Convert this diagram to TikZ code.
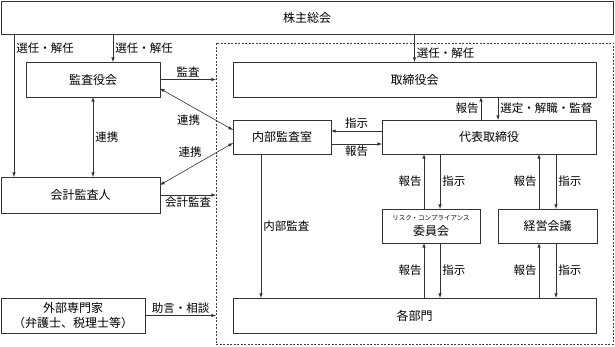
\documentclass[tikz,border=0pt]{standalone}
\usepackage{fontspec}
\newfontfamily\jpfont{Noto Sans CJK JP}
\begin{document}
\begin{tikzpicture}[
    x=1pt, y=-1pt,
    >=latex,
    every node/.style={font=\jpfont\fontsize{12}{15}\selectfont},
    box/.style={
        draw=black!80, line width=0.6pt,
        inner sep=0pt, outer sep=0pt, align=center
    },
    grpframe/.style={
        draw=black!75, dash pattern=on 2pt off 1.5pt, line width=0.6pt,
        inner sep=0pt, outer sep=0pt,
        minimum width=397pt, minimum height=301pt
    },
    arr/.style={->, draw=black!80, line width=0.6pt},
    both/.style={<->, draw=black!80, line width=0.6pt},
    lbl/.style={inner sep=2pt, font=\jpfont\fontsize{11.5}{14}\selectfont}
]

\useasboundingbox (0,0) rectangle (615,347);

% 株主総会と点線の枠
\node[box, minimum width=612pt, minimum height=33pt] (soukai) at (307,17.5) {株主総会};
\node[grpframe] (grp) at (414.5,193.5) {};

% 枠の外
\node[box, minimum width=134pt, minimum height=35pt] (kansa) at (93,79.5) {監査役会};
\node[box, minimum width=159pt, minimum height=36pt] (kaikei) at (80.5,195) {会計監査人};
\node[box, minimum width=144pt, minimum height=35pt] (gaibu) at (73,315.5)
    {外部専門家\\（弁護士、税理士等）};

% 枠の中
\node[box, minimum width=363pt, minimum height=35pt] (board) at (414.5,79.5) {取締役会};
\node[box, minimum width=98pt, minimum height=34pt] (naibu) at (282,137) {内部監査室};
\node[box, minimum width=214pt, minimum height=34pt] (ceo) at (489,137) {代表取締役};
\node[box, minimum width=98pt, minimum height=34pt] (risk) at (431,226)
    {{\fontsize{6.5}{9}\selectfont リスク・コンプライアンス}\\委員会};
\node[box, minimum width=99pt, minimum height=34pt] (keiei) at (547.5,226) {経営会議};
\node[box, minimum width=363pt, minimum height=35pt] (bumon) at (414.5,315.5) {各部門};

% 選任・解任
\draw[arr] ([xshift=13pt]kaikei.north west |- soukai.south)
    -- node[lbl, right, pos=0.1] (selA) {選任・解任} ([xshift=13pt]kaikei.north west);
\draw[arr] ([xshift=20pt]kansa.north |- soukai.south)
    -- node[lbl, right] (selB) {選任・解任} ([xshift=20pt]kansa.north);
\draw[arr] (board.north |- soukai.south)
    -- node[lbl, right, pos=0.7] (selC) {選任・解任} (board.north);

% 監査役会・会計監査人・外部専門家から枠へ
\draw[arr] (kansa.east) -- node[lbl, above] (audA) {監査} (kansa.east -| grp.west);
\draw[arr] (kaikei.east) -- node[lbl, below] (audB) {会計監査} (kaikei.east -| grp.west);
\draw[arr] (gaibu.east) -- node[lbl, above] (advice) {助言・相談} (gaibu.east -| grp.west);

% 連携
\draw[both] (kansa.south) -- node[lbl, right] (linkA) {連携} (kansa.south |- kaikei.north);
\draw[both] ([yshift=-9pt]kansa.east)
    -- node[lbl, below left, pos=0.58] (linkB) {連携} ([yshift=7pt]naibu.west);
\draw[both] ([yshift=10pt]kaikei.east)
    -- node[lbl, above left, pos=0.6] (linkC) {連携} ([yshift=-6pt]naibu.west);

% 内部監査室
\draw[arr] ([xshift=-21pt]naibu.south)
    -- node[lbl, right] (inAud) {内部監査} ([xshift=-21pt]naibu.south |- bumon.north);
\draw[arr] ([yshift=6pt]ceo.west) -- node[lbl, above] (cmdA) {指示} ([yshift=6pt]ceo.west -| naibu.east);
\draw[arr] ([yshift=-7pt]naibu.east) -- node[lbl, below] (repA) {報告} ([yshift=-7pt]naibu.east -| ceo.west);

% 代表取締役と取締役会
\draw[arr] ([xshift=-8pt]ceo.north)
    -- node[lbl, left] (repB) {報告} ([xshift=-8pt]ceo.north |- board.south);
\draw[arr] ([xshift=9pt]ceo.north |- board.south)
    -- node[lbl, right] (super) {選定・解職・監督} ([xshift=9pt]ceo.north);

% 委員会・経営会議（上）
\draw[arr] ([xshift=-7pt]risk.north)
    -- node[lbl, left] (repC) {報告} ([xshift=-7pt]risk.north |- ceo.south);
\draw[arr] ([xshift=9pt]risk.north |- ceo.south)
    -- node[lbl, right] (cmdC) {指示} ([xshift=9pt]risk.north);
\draw[arr] ([xshift=-8.5pt]keiei.north)
    -- node[lbl, left] (repD) {報告} ([xshift=-8.5pt]keiei.north |- ceo.south);
\draw[arr] ([xshift=8.5pt]keiei.north |- ceo.south)
    -- node[lbl, right] (cmdD) {指示} ([xshift=8.5pt]keiei.north);

% 委員会・経営会議（下）
\draw[arr] ([xshift=-7pt]risk.south |- bumon.north)
    -- node[lbl, left] (repE) {報告} ([xshift=-7pt]risk.south);
\draw[arr] ([xshift=9pt]risk.south)
    -- node[lbl, right] (cmdE) {指示} ([xshift=9pt]risk.south |- bumon.north);
\draw[arr] ([xshift=-8.5pt]keiei.south |- bumon.north)
    -- node[lbl, left] (repF) {報告} ([xshift=-8.5pt]keiei.south);
\draw[arr] ([xshift=8.5pt]keiei.south)
    -- node[lbl, right] (cmdF) {指示} ([xshift=8.5pt]keiei.south |- bumon.north);

\end{tikzpicture}
\end{document}
